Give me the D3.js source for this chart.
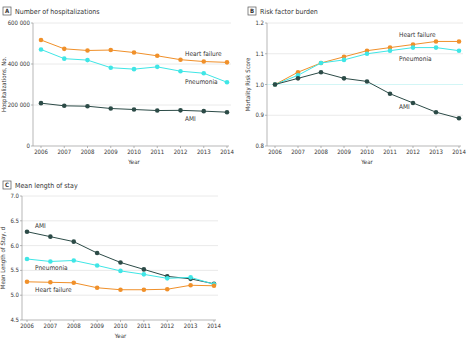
<!DOCTYPE html>
<html>
<head>
<meta charset="utf-8">
<script src="https://cdn.jsdelivr.net/npm/d3@7"></script>
<style>
  body { margin: 0; background: #fff; }
  svg { font-family: "DejaVu Sans Condensed", "DejaVu Sans", sans-serif; }
</style>
</head>
<body>
<div id="chart"></div>
<script>
const years = [2006, 2007, 2008, 2009, 2010, 2011, 2012, 2013, 2014];

// A: number of hospitalizations
const hospHF = [517000, 474000, 466000, 468000, 456000, 440000, 421000, 412000, 408000];
const hospPN = [471000, 426000, 419000, 382000, 375000, 386000, 365000, 355000, 311000];
const hospAMI = [209000, 196000, 194000, 183000, 178000, 173000, 174000, 170000, 165000];
const hospTicks = [0, 200000, 400000, 600000];

// B: risk factor burden
const riskHF = [1.00, 1.04, 1.07, 1.09, 1.11, 1.12, 1.13, 1.14, 1.14];
const riskPN = [1.00, 1.03, 1.07, 1.08, 1.10, 1.11, 1.12, 1.12, 1.11];
const riskAMI = [1.00, 1.02, 1.04, 1.02, 1.01, 0.97, 0.94, 0.91, 0.89];
const riskTicks = [0.8, 0.9, 1.0, 1.1, 1.2];

// C: mean length of stay
const losAMI = [6.28, 6.18, 6.08, 5.85, 5.66, 5.52, 5.38, 5.33, 5.23];
const losPN = [5.73, 5.68, 5.70, 5.60, 5.49, 5.42, 5.34, 5.36, 5.22];
const losHF = [5.27, 5.26, 5.25, 5.15, 5.11, 5.11, 5.12, 5.20, 5.19];
const losTicks = [4.5, 5.0, 5.5, 6.0, 6.5, 7.0];

const colors = {hf: "#f0902a", pn: "#3fe6e6", ami: "#2c4b47"};

const svg = d3.select("#chart").append("svg")
    .attr("width", 467)
    .attr("height", 345);

function drawPanel(p) {
    let g = svg.append("g");

    let x = d3.scalePoint().domain(years).range([p.x0, p.x1]);
    let y = d3.scaleLinear().domain(p.domain).range([p.y0, p.y1]);

    // panel letter + title
    g.append("rect")
        .attr("x", p.titleX).attr("y", p.titleY - 6)
        .attr("width", 8).attr("height", 8)
        .attr("fill", "none").attr("stroke", "#555").attr("stroke-width", 0.7);
    g.append("text")
        .attr("x", p.titleX + 4).attr("y", p.titleY)
        .attr("text-anchor", "middle")
        .attr("font-size", 6).attr("font-weight", "bold").attr("fill", "#333")
        .text(p.letter);
    g.append("text")
        .attr("x", p.titleX + 12).attr("y", p.titleY + 0.5)
        .attr("font-size", 7).attr("fill", "#333")
        .text(p.title);

    // gridlines
    g.selectAll(".grid")
        .data(p.ticks.slice(1))
        .enter().append("line")
        .attr("x1", p.axisX).attr("x2", p.x1 + 4)
        .attr("y1", d => y(d)).attr("y2", d => y(d))
        .attr("stroke", d => (p.refLine !== undefined && d === p.refLine) ? "#c8f4f4" : "#e4e4e4")
        .attr("stroke-width", 0.8);

    // y axis
    g.append("line")
        .attr("x1", p.axisX).attr("x2", p.axisX)
        .attr("y1", p.y0).attr("y2", p.y1)
        .attr("stroke", "#999").attr("stroke-width", 0.7);
    g.selectAll(".ytick")
        .data(p.ticks)
        .enter().append("line")
        .attr("x1", p.axisX - 2).attr("x2", p.axisX)
        .attr("y1", d => y(d)).attr("y2", d => y(d))
        .attr("stroke", "#999").attr("stroke-width", 0.7);
    g.selectAll(".ylab")
        .data(p.ticks)
        .enter().append("text")
        .attr("x", p.axisX - 3).attr("y", d => y(d) + 2)
        .attr("text-anchor", "end")
        .attr("font-size", 6).attr("fill", "#333")
        .text(p.fmt);

    // x axis
    g.append("line")
        .attr("x1", p.axisX).attr("x2", p.x1 + 2)
        .attr("y1", p.y0).attr("y2", p.y0)
        .attr("stroke", "#999").attr("stroke-width", 0.7);
    g.selectAll(".xtick")
        .data(years)
        .enter().append("line")
        .attr("x1", d => x(d)).attr("x2", d => x(d))
        .attr("y1", p.y0).attr("y2", p.y0 + 2)
        .attr("stroke", "#999").attr("stroke-width", 0.7);
    g.selectAll(".xlab")
        .data(years)
        .enter().append("text")
        .attr("x", d => x(d)).attr("y", p.y0 + 8)
        .attr("text-anchor", "middle")
        .attr("font-size", 6).attr("fill", "#333")
        .text(d => d);
    g.append("text")
        .attr("x", (p.x0 + p.x1) / 2).attr("y", p.y0 + 18)
        .attr("text-anchor", "middle")
        .attr("font-size", 6).attr("fill", "#333")
        .text("Year");
    g.append("text")
        .attr("transform", `translate(${p.yLabelX}, ${(p.y0 + p.y1) / 2}) rotate(-90)`)
        .attr("text-anchor", "middle")
        .attr("font-size", 6).attr("fill", "#333")
        .text(p.yLabel);

    let line = d3.line()
        .x((d, i) => x(years[i]))
        .y(d => y(d));

    p.series.forEach(s => {
        g.append("path")
            .datum(s.values)
            .attr("d", line)
            .attr("fill", "none")
            .attr("stroke", s.color)
            .attr("stroke-width", 1);
        g.selectAll(null)
            .data(s.values)
            .enter().append("circle")
            .attr("cx", (d, i) => x(years[i]))
            .attr("cy", d => y(d))
            .attr("r", 2.3)
            .attr("fill", s.color);
        g.append("text")
            .attr("x", s.lx).attr("y", s.ly)
            .attr("font-size", 6.5).attr("fill", "#333")
            .text(s.name);
    });
}

drawPanel({
    letter: "A", title: "Number of hospitalizations",
    titleX: 3, titleY: 13,
    x0: 41, x1: 227, y0: 146, y1: 23, axisX: 33,
    domain: [0, 600000], ticks: hospTicks,
    fmt: d => d3.format(",")(d).replace(/,/g, " "),
    yLabel: "Hospitalizations, No.", yLabelX: 6,
    series: [
        {name: "Heart failure", values: hospHF, color: colors.hf, lx: 185, ly: 56},
        {name: "Pneumonia", values: hospPN, color: colors.pn, lx: 185, ly: 84},
        {name: "AMI", values: hospAMI, color: colors.ami, lx: 185, ly: 121}
    ]
});

drawPanel({
    letter: "B", title: "Risk factor burden",
    titleX: 248, titleY: 13,
    x0: 275, x1: 459, y0: 146, y1: 23, axisX: 267,
    domain: [0.8, 1.2], ticks: riskTicks, refLine: 1.0,
    fmt: d3.format(".1f"),
    yLabel: "Mortality Risk Score", yLabelX: 250,
    series: [
        {name: "Heart failure", values: riskHF, color: colors.hf, lx: 399, ly: 37},
        {name: "Pneumonia", values: riskPN, color: colors.pn, lx: 399, ly: 61},
        {name: "AMI", values: riskAMI, color: colors.ami, lx: 399, ly: 109}
    ]
});

drawPanel({
    letter: "C", title: "Mean length of stay",
    titleX: 3, titleY: 187,
    x0: 27, x1: 214, y0: 320, y1: 196, axisX: 22,
    domain: [4.5, 7.0], ticks: losTicks,
    fmt: d3.format(".1f"),
    yLabel: "Mean Length of Stay, d", yLabelX: 5,
    series: [
        {name: "AMI", values: losAMI, color: colors.ami, lx: 35, ly: 228},
        {name: "Pneumonia", values: losPN, color: colors.pn, lx: 35, ly: 270},
        {name: "Heart failure", values: losHF, color: colors.hf, lx: 35, ly: 292}
    ]
});
</script>
</body>
</html>
